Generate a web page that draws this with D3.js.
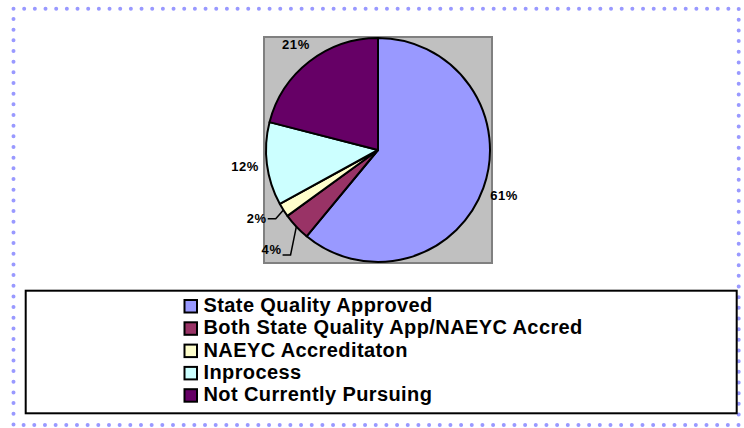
<!DOCTYPE html>
<html>
<head>
<meta charset="utf-8">
<script src="https://cdn.jsdelivr.net/npm/d3@7"></script>
<style>
  html, body { margin: 0; padding: 0; background: #fff; }
  svg { display: block; }
  text { font-family: "Liberation Sans", Arial, sans-serif; font-weight: bold; fill: #000; }
</style>
</head>
<body>
<svg id="chart" width="744" height="428"></svg>
<script>
// chart data
var categories = [
  "State Quality Approved",
  "Both State Quality App/NAEYC Accred",
  "NAEYC Accreditaton",
  "Inprocess",
  "Not Currently Pursuing"
];
var values = [61, 4, 2, 12, 21];
var labels = ["61%", "4%", "2%", "12%", "21%"];
var colors = ["#9999ff", "#993366", "#ffffcc", "#ccffff", "#660066"];

(function () {
  var svg = d3.select("#chart");

  // dotted outer frame
  svg.append("rect")
    .attr("x", 13.5).attr("y", 8.7)
    .attr("width", 725.2).attr("height", 416.3)
    .attr("fill", "none")
    .attr("stroke", "#9999ff")
    .attr("stroke-width", 4)
    .attr("stroke-linecap", "round")
    .attr("stroke-dasharray", "0 10.67");

  // plot area
  svg.append("rect")
    .attr("x", 264).attr("y", 37)
    .attr("width", 228).attr("height", 226)
    .attr("fill", "#c0c0c0")
    .attr("stroke", "#808080")
    .attr("stroke-width", 2);

  var cx = 378, cy = 150, r = 112;
  var data = categories.map(function (c, i) {
    return { name: c, value: values[i], label: labels[i], color: colors[i] };
  });

  var pie = d3.pie().sort(null).value(function (d) { return d.value; });
  var arc = d3.arc().innerRadius(0).outerRadius(r);
  var arcs = pie(data);

  var g = svg.append("g").attr("transform", "translate(" + cx + "," + cy + ")");
  g.selectAll("path.slice")
    .data(arcs)
    .enter().append("path")
    .attr("class", "slice")
    .attr("d", arc)
    .attr("fill", function (d) { return d.data.color; })
    .attr("stroke", "#000")
    .attr("stroke-width", 2)
    .attr("stroke-linejoin", "round");

  function polar(a, rad) {
    return [Math.sin(a) * rad, -Math.cos(a) * rad];
  }

  // labels: big slices sit just outside, small ones get a leader line
  arcs.forEach(function (d, i) {
    var mid = (d.startAngle + d.endAngle) / 2;
    var small = d.data.value < 5;
    var stacked = small && i > 0 && arcs[i - 1].data.value < 5;
    var pos = polar(mid, small ? r + 34 : r + 22);
    if (stacked) { pos[1] -= 10; pos[0] += 2; } // keep stacked small labels apart

    var t = g.append("text")
      .attr("x", pos[0]).attr("y", pos[1] + 4.5)
      .attr("text-anchor", "middle")
      .style("font-size", "13px")
      .style("letter-spacing", "0.6px")
      .text(d.data.label);

    if (small) {
      var bb = t.node().getBBox();
      var edge = polar(mid, r);
      var ly = pos[1] + (stacked ? 0.5 : 5);
      g.append("path")
        .attr("d", "M" + (bb.x + bb.width + 1) + "," + ly +
                   "H" + (bb.x + bb.width + 9) +
                   "L" + edge[0] + "," + edge[1])
        .attr("fill", "none")
        .attr("stroke", "#000")
        .attr("stroke-width", 1.5);
    }
  });

  // legend box
  svg.append("rect")
    .attr("x", 25.7).attr("y", 290.7)
    .attr("width", 711).attr("height", 122.6)
    .attr("fill", "#fff")
    .attr("stroke", "#000")
    .attr("stroke-width", 2);

  var rowY = d3.scalePoint().domain(categories).range([312, 401.2]);

  var rows = svg.append("g").selectAll("g.row")
    .data(data)
    .enter().append("g")
    .attr("class", "row")
    .attr("transform", function (d) { return "translate(0," + rowY(d.name) + ")"; });

  rows.append("rect")
    .attr("x", 184.5).attr("y", -12)
    .attr("width", 12.5).attr("height", 12.5)
    .attr("fill", function (d) { return d.color; })
    .attr("stroke", "#000")
    .attr("stroke-width", 2);

  rows.append("text")
    .attr("x", 203.5).attr("y", 0)
    .style("font-size", "20px")
    .style("letter-spacing", "0.4px")
    .text(function (d) { return d.name; });
})();
</script>
</body>
</html>
